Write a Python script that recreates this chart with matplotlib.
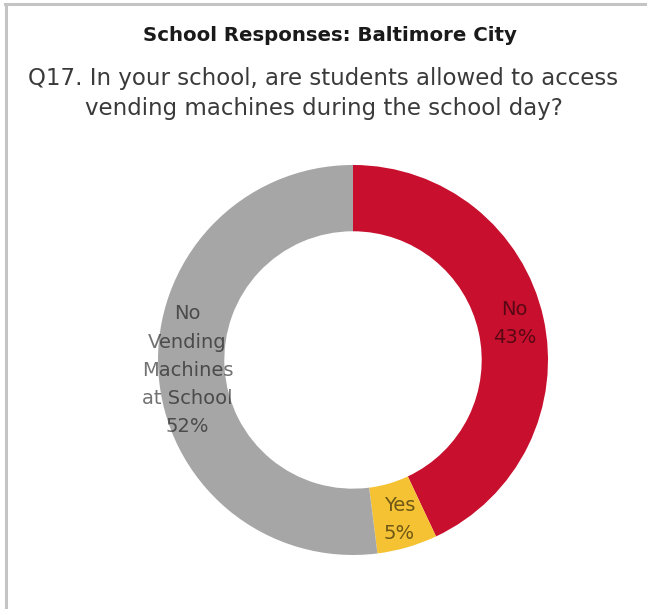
import matplotlib.pyplot as plt
from matplotlib.lines import Line2D

# Q17 responses, Baltimore City schools
labels = ["No", "Yes", "No\nVending\nMachines\nat School"]
shares = [43, 5, 52]
colors = ["#C8102E", "#F5C233", "#A6A6A6"]

title = "School Responses: Baltimore City"
question = "Q17. In your school, are students allowed to access\nvending machines during the school day?"

fig = plt.figure(figsize=(6.47, 6.09), dpi=100)

# thin frame along the top and left edges
fig.add_artist(Line2D([0.008, 0.998], [0.993, 0.993], color="#c4c4c4", lw=2.2))
fig.add_artist(Line2D([0.009, 0.009], [0.0, 0.993], color="#c4c4c4", lw=2.2))

fig.text(0.51, 0.942, title, ha="center", va="center",
         fontsize=14.2, fontweight="bold", color="#1a1a1a")
fig.text(0.5, 0.846, question, ha="center", va="center",
         fontsize=16.5, color="#3a3a3a", linespacing=1.38)

ax = fig.add_axes([0.2442, 0.0887, 0.6028, 0.6404])
wedges, texts = ax.pie(
    shares,
    labels=[f"{l}\n{v}%" for l, v in zip(labels, shares)],
    colors=colors,
    startangle=90,
    counterclock=False,
    labeldistance=0.85,
    wedgeprops=dict(width=0.34, edgecolor="none"),
)
for t in texts:
    t.set_ha("center")
    t.set_va("center")
    t.set_fontsize(14)
    t.set_color("black")
    t.set_alpha(0.55)
    t.set_linespacing(1.62)
ax.set_xlim(-1, 1)
ax.set_ylim(-1, 1)
ax.set_aspect("equal")

plt.savefig("out.png", dpi=100)
